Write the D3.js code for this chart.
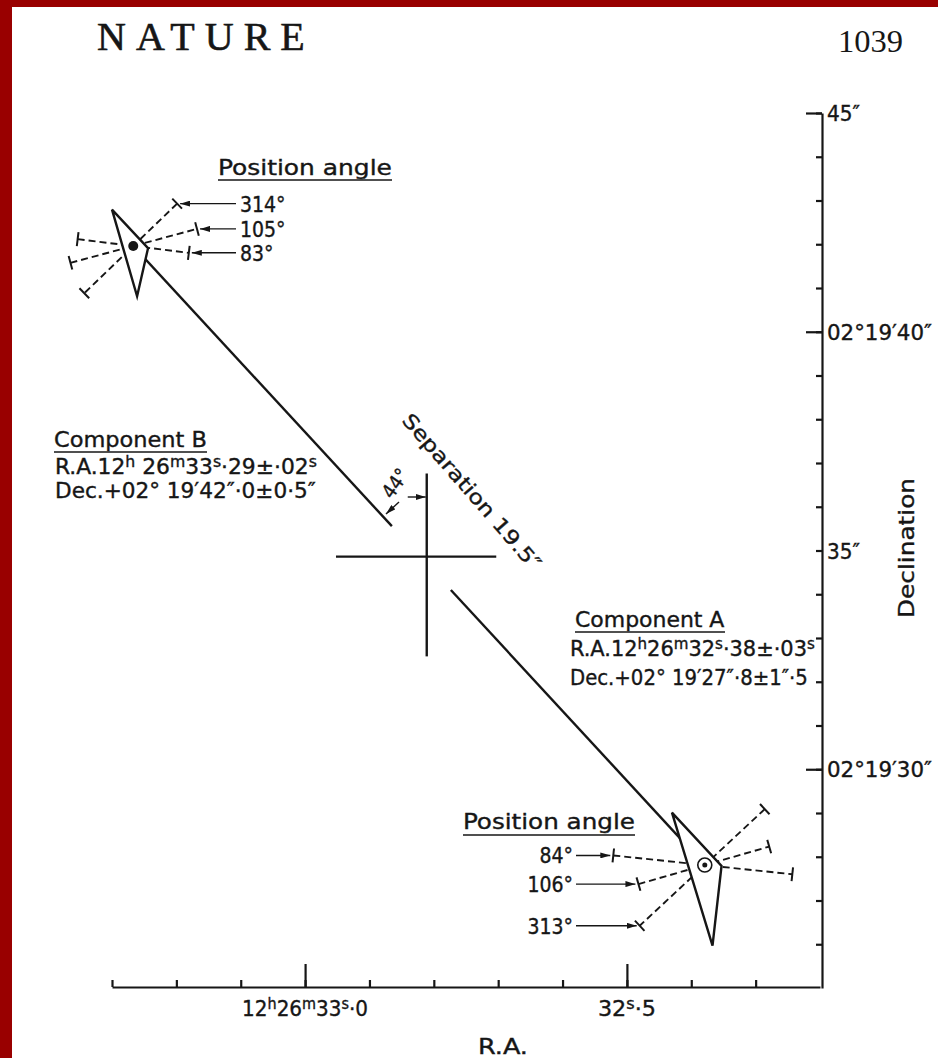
<!DOCTYPE html>
<html>
<head>
<meta charset="utf-8">
<title>3C 273 components</title>
<script src="https://d3js.org/d3.v7.min.js"></script>
<style>
  body { margin: 0; background: #fff; }
  svg { display: block; }
  .lbl { font-family: "DejaVu Sans Condensed", "DejaVu Sans", sans-serif; fill: #161616; stroke: #161616; stroke-width: 0.35; }
  .axis path, .axis line { stroke: #161616; stroke-width: 2.2; }
</style>
</head>
<body>
<svg width="938" height="1058"></svg>
<script>
// R.A. seconds (12h 26m ...) and Dec arcsec (+02 19' ...)
const raTicks = [33.3, 33.2, 33.1, 33.0, 32.9, 32.8, 32.7, 32.6, 32.5, 32.4, 32.3];
const raMajor = [33.0, 32.5];
const decTicks = d3.range(45, 25, -1);
const decMajor = [45, 40, 30];
const decLabelVals = [45, 40, 35, 30];
const decLabelText = ['45″', '02°19′40″', '35″', '02°19′30″'];

const compNames = ['B', 'A'];
const compRA = [33.267, 32.379];
const compDec = [41.96, 27.81];
const posAngles = [[314, 105, 83], [84, 106, 313]];
const triRA = [[33.300, 33.244, 33.261], [32.430, 32.353, 32.367]];
const triDec = [[42.79, 41.91, 40.81], [29.01, 27.79, 25.97]];

const centreRA = 32.811, centreDec = 34.86;
const crossRA = [32.952, 32.703];
const crossDec = [36.76, 32.58];
const lineGap = [0.4525, 0.5557];
const sepAngle = 44;

const svg = d3.select('svg');
const ink = '#161616';

// page border
svg.append('rect').attr('width', 938).attr('height', 1058).attr('fill', '#990000');
svg.append('rect').attr('x', 12).attr('y', 7).attr('width', 926).attr('height', 1051).attr('fill', '#fff');

svg.append('text').attr('x', 97).attr('y', 50)
  .attr('font-family', 'Liberation Serif, serif').attr('font-size', 40)
  .attr('letter-spacing', 10).attr('fill', ink).attr('stroke', ink).attr('stroke-width', 0.6)
  .text('NATURE');
svg.append('text').attr('x', 838).attr('y', 52)
  .attr('font-family', 'Liberation Serif, serif').attr('font-size', 31)
  .attr('textLength', 65).attr('lengthAdjust', 'spacingAndGlyphs')
  .attr('fill', ink).text('1039');

const defs = svg.append('defs');
defs.append('marker').attr('id', 'arr').attr('viewBox', '0 0 10 6')
  .attr('refX', 10).attr('refY', 3).attr('markerWidth', 10).attr('markerHeight', 6)
  .attr('markerUnits', 'userSpaceOnUse').attr('orient', 'auto')
  .append('path').attr('d', 'M0,0L10,3L0,6Z').attr('fill', ink);

const x = d3.scaleLinear().domain([33.3, 32.2]).range([112, 820]);
const y = d3.scaleLinear().domain([45, 25]).range([113, 988]);

// axes
svg.append('g').attr('class', 'axis').attr('transform', 'translate(0,987)')
  .call(d3.axisTop(x).tickValues(raTicks).tickSize(7).tickSizeOuter(0).tickFormat(''));
svg.append('g').attr('class', 'axis').attr('transform', 'translate(0,987)')
  .call(d3.axisTop(x).tickValues(raMajor).tickSize(23).tickSizeOuter(0).tickFormat(''))
  .select('.domain').remove();
svg.append('g').attr('class', 'axis').attr('transform', 'translate(822,0)')
  .call(d3.axisLeft(y).tickValues(decTicks).tickSize(6).tickSizeOuter(0).tickFormat(''));
svg.append('g').attr('class', 'axis').attr('transform', 'translate(822,0)')
  .call(d3.axisLeft(y).tickValues(decMajor).tickSize(16).tickSizeOuter(0).tickFormat(''))
  .select('.domain').remove();

// text helper: parts are [string, superscript?]; len squeezes to a width
function label(px, py, size, parts, opts) {
  opts = opts || {};
  const t = svg.append('text').attr('class', 'lbl').attr('font-size', size)
    .attr('text-anchor', opts.anchor || 'start');
  if (typeof parts === 'string') parts = [[parts]];
  let up = false;
  parts.forEach(p => {
    const s = t.append('tspan').text(p[0]);
    if (p[1] && !up) { s.attr('dy', -size * 0.32).attr('font-size', size * 0.72); up = true; }
    else if (p[1]) s.attr('font-size', size * 0.72);
    else if (up) { s.attr('dy', size * 0.32); up = false; }
  });
  const w = t.node().getBBox().width;
  const k = opts.len ? opts.len / w : 1;
  t.attr('transform', `translate(${px},${py}) rotate(${opts.rot || 0}) scale(${k},1)`);
  return t;
}
function underline(x1, x2, yy) {
  svg.append('line').attr('x1', x1).attr('x2', x2).attr('y1', yy).attr('y2', yy)
    .attr('stroke', ink).attr('stroke-width', 1.6);
}
function arrow(x1, y1, x2, y2) {
  svg.append('line').attr('x1', x1).attr('y1', y1).attr('x2', x2).attr('y2', y2)
    .attr('stroke', ink).attr('stroke-width', 1.4).attr('marker-end', 'url(#arr)');
}

// axis labels
decLabelVals.forEach((v, i) => {
  label(827, y(v) + 8, 22, decLabelText[i], { len: decLabelText[i].length > 4 ? 105 : 33 });
});
label(x(33.0), 1016, 22, [['12'], ['h', 1], ['26'], ['m', 1], ['33'], ['s', 1], ['·0']], { anchor: 'middle', len: 126 });
label(x(32.5), 1016, 22, [['32'], ['s', 1], ['·5']], { anchor: 'middle', len: 58 });
label(503, 1054, 22, 'R.A.', { anchor: 'middle', len: 50 });
label(914, 548, 21, 'Declination', { anchor: 'middle', len: 140, rot: -90 });

// connecting line B -> A, broken at the centre cross
const bx = x(compRA[0]), by = y(compDec[0]), ax = x(compRA[1]), ay = y(compDec[1]);
const along = t => [bx + t * (ax - bx), by + t * (ay - by)];
[[0, lineGap[0]], [lineGap[1], 1]].forEach(s => {
  const p = along(s[0]), q = along(s[1]);
  svg.append('line').attr('x1', p[0]).attr('y1', p[1]).attr('x2', q[0]).attr('y2', q[1])
    .attr('stroke', ink).attr('stroke-width', 2.4);
});

// centre cross
svg.append('line').attr('x1', x(crossRA[0])).attr('x2', x(crossRA[1]))
  .attr('y1', y(centreDec)).attr('y2', y(centreDec)).attr('stroke', ink).attr('stroke-width', 2.4);
svg.append('line').attr('x1', x(centreRA)).attr('x2', x(centreRA))
  .attr('y1', y(crossDec[0])).attr('y2', y(crossDec[1])).attr('stroke', ink).attr('stroke-width', 2.4);

// separation angle marker
const cxv = x(centreRA);
arrow(cxv - 19, 497, cxv - 1, 497);
arrow(399, 502, 386, 514);
label(392, 500, 20, sepAngle + '°', { rot: -55, len: 31 });
label(401, 421, 20, 'Separation 19.5″', { rot: 49, len: 200 });

// position angle lines
const paLen = [[[61, 68], [65, 66], [56, 56]], [[92, 88], [69, 67], [82, 89]]];
const labelEnd = [[0, 1, 1], [0, 0, 1]];
const dir = pa => [-Math.sin(pa * Math.PI / 180), -Math.cos(pa * Math.PI / 180)];

compNames.forEach((name, i) => {
  const cx = x(compRA[i]), cy = y(compDec[i]);
  posAngles[i].forEach((pa, j) => {
    const d = dir(pa);
    const ends = [[cx + d[0] * paLen[i][j][0], cy + d[1] * paLen[i][j][0]],
                  [cx - d[0] * paLen[i][j][1], cy - d[1] * paLen[i][j][1]]];
    svg.append('line').attr('x1', ends[0][0]).attr('y1', ends[0][1])
      .attr('x2', ends[1][0]).attr('y2', ends[1][1])
      .attr('stroke', ink).attr('stroke-width', 1.9).attr('stroke-dasharray', '7,4');
    ends.forEach(e => {
      svg.append('line').attr('x1', e[0] - d[1] * 7).attr('y1', e[1] + d[0] * 7)
        .attr('x2', e[0] + d[1] * 7).attr('y2', e[1] - d[0] * 7)
        .attr('stroke', ink).attr('stroke-width', 2);
    });
    const e = ends[labelEnd[i][j]];
    if (i === 0) {
      arrow(236, e[1], e[0] + 3, e[1]);
      label(240, e[1] + 8, 21, pa + '°');
    } else {
      arrow(576, e[1], e[0] - 3, e[1]);
      label(573, e[1] + 8, 21, pa + '°', { anchor: 'end' });
    }
  });
  const pts = triRA[i].map((r, k) => [x(r), y(triDec[i][k])]);
  svg.append('path').attr('d', 'M' + pts.join('L') + 'Z')
    .attr('fill', '#fff').attr('stroke', ink).attr('stroke-width', 2.4).attr('stroke-linejoin', 'miter');
  if (name === 'B') {
    svg.append('circle').attr('cx', cx).attr('cy', cy).attr('r', 5).attr('fill', ink);
  } else {
    svg.append('circle').attr('cx', cx).attr('cy', cy).attr('r', 7)
      .attr('fill', 'none').attr('stroke', ink).attr('stroke-width', 1.6);
    svg.append('circle').attr('cx', cx).attr('cy', cy).attr('r', 2.5).attr('fill', ink);
  }
});

// position angle headings
label(218, 175, 22, 'Position angle', { len: 174 });
underline(218, 392, 180);
label(463, 829, 22, 'Position angle', { len: 172 });
underline(463, 635, 835);

// component annotations
label(54, 447, 22, 'Component B', { len: 153 });
underline(54, 207, 452);
label(55, 474, 22, [['R.A.12'], ['h', 1], [' 26'], ['m', 1], ['33'], ['s', 1], ['·29±·02'], ['s', 1]], { len: 262 });
label(55, 498, 22, 'Dec.+02° 19′42″·0±0·5″', { len: 261 });

label(575, 627, 22, 'Component A', { len: 150 });
underline(575, 725, 632);
label(570, 656, 22, [['R.A.12'], ['h', 1], ['26'], ['m', 1], ['32'], ['s', 1], ['·38±·03'], ['s', 1]], { len: 245 });
label(570, 685, 22, 'Dec.+02° 19′27″·8±1″·5', { len: 238 });
</script>
</body>
</html>
